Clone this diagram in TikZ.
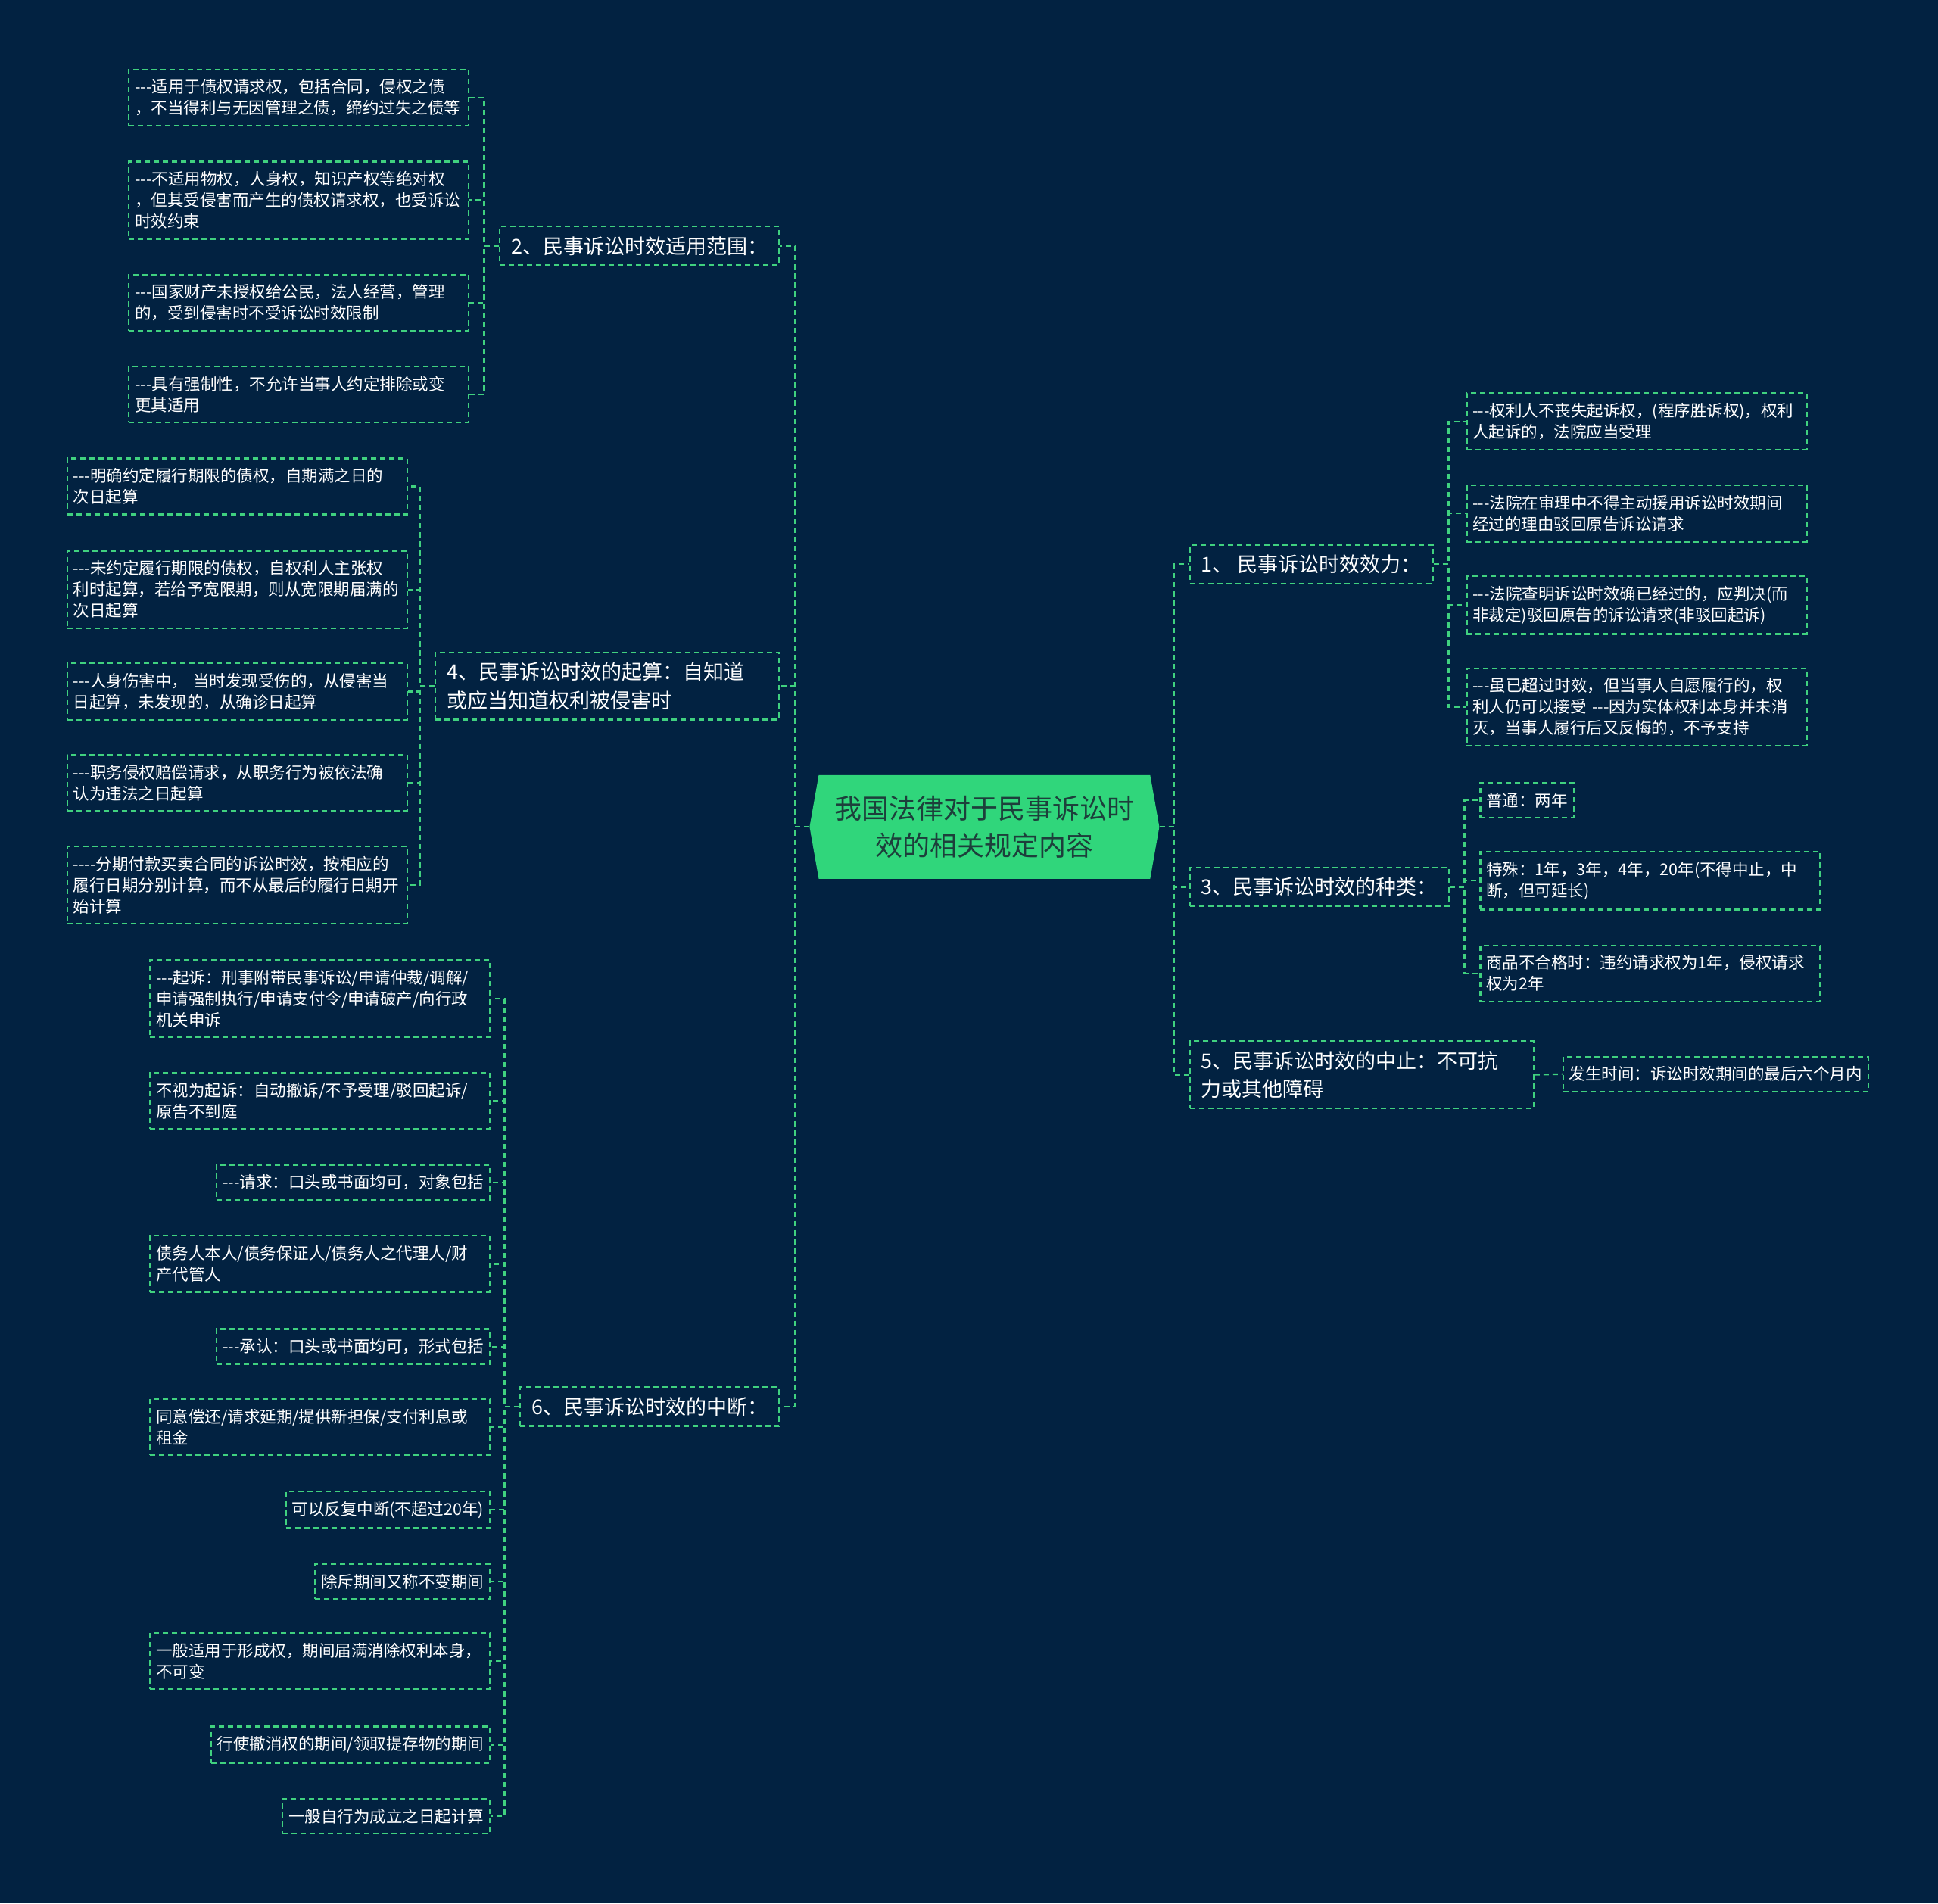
\documentclass[tikz,border=0pt]{standalone}
\usepackage{fontspec}
\newfontfamily\cjk{Noto Sans CJK SC}
\usetikzlibrary{shapes.symbols}
\definecolor{bgnavy}{HTML}{022241}
\definecolor{mapgreen}{HTML}{40D17F}
\definecolor{rootgreen}{HTML}{30D67B}
\definecolor{roottext}{HTML}{1D3F3B}
\newcommand{\hyps}{-{}-{}-}

\begin{document}
\begin{tikzpicture}[x=1.6327pt, y=-1.6327pt, every node/.style={text=white},
  link/.style={draw=mapgreen, line width=2.2pt, dash pattern=on 7pt off 5pt},
  leaf/.style={draw=mapgreen, line width=2.2pt, dash pattern=on 7pt off 5pt, align=left,
    inner xsep=8pt, inner ysep=13pt, font=\cjk\fontsize{21.5}{28}\selectfont},
  wideleaf/.style={leaf, text width=433pt},
  branch/.style={draw=mapgreen, line width=2.2pt, dash pattern=on 7pt off 5pt, align=left,
    inner xsep=15pt, inner ysep=13pt, font=\cjk\fontsize{27}{37.5}\selectfont},
  widebranch/.style={branch, text width=424pt}]
  \useasboundingbox (0,0) rectangle (1568,1540);
  \fill[bgnavy] (0,0) rectangle (1568,1540);

  % central topic
  \node[signal, signal to=west and east, signal pointer angle=160, fill=rootgreen,
    minimum width=462pt, minimum height=137pt, align=center, text=roottext,
    font=\cjk\fontsize{36}{49}\selectfont] (root) at (796.5,669)
    {我国法律对于民事诉讼时\\效的相关规定内容};

  % right branches
  \node[branch, anchor=west] (b1) at (962,456.5) {1、 民事诉讼时效效力：};
  \node[branch, anchor=west] (b3) at (962,717.5) {3、民事诉讼时效的种类：};
  \node[widebranch, anchor=west] (b5) at (962,869.5) {5、民事诉讼时效的中止：不可抗\\力或其他障碍};

  % left branches
  \node[branch, anchor=east] (b2) at (631,199) {2、民事诉讼时效适用范围：};
  \node[widebranch, anchor=east] (b4) at (631,555) {4、民事诉讼时效的起算：自知道\\或应当知道权利被侵害时};
  \node[branch, anchor=east] (b6) at (631,1138) {6、民事诉讼时效的中断：};

  % leaves of 1
  \node[wideleaf, anchor=west] (b1a) at (1186,341) {\hyps 权利人不丧失起诉权，(程序胜诉权)，权利\\人起诉的，法院应当受理};
  \node[wideleaf, anchor=west] (b1b) at (1186,415.5) {\hyps 法院在审理中不得主动援用诉讼时效期间\\经过的理由驳回原告诉讼请求};
  \node[wideleaf, anchor=west] (b1c) at (1186,489.5) {\hyps 法院查明诉讼时效确已经过的，应判决(而\\非裁定)驳回原告的诉讼请求(非驳回起诉)};
  \node[wideleaf, anchor=west] (b1d) at (1186,572) {\hyps 虽已超过时效，但当事人自愿履行的，权\\利人仍可以接受 \hyps 因为实体权利本身并未消\\灭，当事人履行后又反悔的，不予支持};

  % leaves of 3
  \node[leaf, anchor=west] (b3a) at (1197,647.5) {普通：两年};
  \node[wideleaf, anchor=west] (b3b) at (1197,712.5) {特殊：1年，3年，4年，20年(不得中止，中\\断，但可延长)};
  \node[wideleaf, anchor=west] (b3c) at (1197,787.5) {商品不合格时：违约请求权为1年，侵权请求\\权为2年};

  % leaf of 5
  \node[leaf, anchor=west] (b5a) at (1264,869) {发生时间：诉讼时效期间的最后六个月内};

  % leaves of 2
  \node[wideleaf, anchor=east] (b2a) at (380,79) {\hyps 适用于债权请求权，包括合同，侵权之债\\，不当得利与无因管理之债，缔约过失之债等};
  \node[wideleaf, anchor=east] (b2b) at (380,162) {\hyps 不适用物权，人身权，知识产权等绝对权\\，但其受侵害而产生的债权请求权，也受诉讼\\时效约束};
  \node[wideleaf, anchor=east] (b2c) at (380,245) {\hyps 国家财产未授权给公民，法人经营，管理\\的，受到侵害时不受诉讼时效限制};
  \node[wideleaf, anchor=east] (b2d) at (380,319) {\hyps 具有强制性，不允许当事人约定排除或变\\更其适用};

  % leaves of 4
  \node[wideleaf, anchor=east] (b4a) at (330,393.5) {\hyps 明确约定履行期限的债权，自期满之日的\\次日起算};
  \node[wideleaf, anchor=east] (b4b) at (330,477) {\hyps 未约定履行期限的债权，自权利人主张权\\利时起算，若给予宽限期，则从宽限期届满的\\次日起算};
  \node[wideleaf, anchor=east] (b4c) at (330,559.5) {\hyps 人身伤害中， 当时发现受伤的，从侵害当\\日起算，未发现的，从确诊日起算};
  \node[wideleaf, anchor=east] (b4d) at (330,633.5) {\hyps 职务侵权赔偿请求，从职务行为被依法确\\认为违法之日起算};
  \node[wideleaf, anchor=east] (b4e) at (330,716) {\hyps -分期付款买卖合同的诉讼时效，按相应的\\履行日期分别计算，而不从最后的履行日期开\\始计算};

  % leaves of 6
  \node[wideleaf, anchor=east] (b6a) at (397,808) {\hyps 起诉：刑事附带民事诉讼/申请仲裁/调解/\\申请强制执行/申请支付令/申请破产/向行政\\机关申诉};
  \node[wideleaf, anchor=east] (b6b) at (397,890.5) {不视为起诉：自动撤诉/不予受理/驳回起诉/\\原告不到庭};
  \node[leaf, anchor=east] (b6c) at (397,956.5) {\hyps 请求：口头或书面均可，对象包括};
  \node[wideleaf, anchor=east] (b6d) at (397,1022.5) {债务人本人/债务保证人/债务人之代理人/财\\产代管人};
  \node[leaf, anchor=east] (b6e) at (397,1089.5) {\hyps 承认：口头或书面均可，形式包括};
  \node[wideleaf, anchor=east] (b6f) at (397,1154.5) {同意偿还/请求延期/提供新担保/支付利息或\\租金};
  \node[leaf, anchor=east] (b6g) at (397,1221.5) {可以反复中断(不超过20年)};
  \node[leaf, anchor=east] (b6h) at (397,1279.5) {除斥期间又称不变期间};
  \node[wideleaf, anchor=east] (b6i) at (397,1344) {一般适用于形成权，期间届满消除权利本身，\\不可变};
  \node[leaf, anchor=east] (b6j) at (397,1411.5) {行使撤消权的期间/领取提存物的期间};
  \node[leaf, anchor=east] (b6k) at (397,1469.5) {一般自行为成立之日起计算};

  % root links
  \draw[link] (root.east) -- ++(12,0) |- (b1.west);
  \draw[link] (root.east) -- ++(12,0) |- (b3.west);
  \draw[link] (root.east) -- ++(12,0) |- (b5.west);
  \draw[link] (root.west) -- ++(-12,0) |- (b2.east);
  \draw[link] (root.west) -- ++(-12,0) |- (b4.east);
  \draw[link] (root.west) -- ++(-12,0) |- (b6.east);

  % branch links
  \draw[link] (b1.east) -- ++(12,0) |- (b1a.west);
  \draw[link] (b1.east) -- ++(12,0) |- (b1b.west);
  \draw[link] (b1.east) -- ++(12,0) |- (b1c.west);
  \draw[link] (b1.east) -- ++(12,0) |- (b1d.west);
  \draw[link] (b3.east) -- ++(12,0) |- (b3a.west);
  \draw[link] (b3.east) -- ++(12,0) |- (b3b.west);
  \draw[link] (b3.east) -- ++(12,0) |- (b3c.west);
  \draw[link] (b5.east) -- (b5a.west);
  \draw[link] (b2.west) -- ++(-12,0) |- (b2a.east);
  \draw[link] (b2.west) -- ++(-12,0) |- (b2b.east);
  \draw[link] (b2.west) -- ++(-12,0) |- (b2c.east);
  \draw[link] (b2.west) -- ++(-12,0) |- (b2d.east);
  \draw[link] (b4.west) -- ++(-12,0) |- (b4a.east);
  \draw[link] (b4.west) -- ++(-12,0) |- (b4b.east);
  \draw[link] (b4.west) -- ++(-12,0) |- (b4c.east);
  \draw[link] (b4.west) -- ++(-12,0) |- (b4d.east);
  \draw[link] (b4.west) -- ++(-12,0) |- (b4e.east);
  \draw[link] (b6.west) -- ++(-12,0) |- (b6a.east);
  \draw[link] (b6.west) -- ++(-12,0) |- (b6b.east);
  \draw[link] (b6.west) -- ++(-12,0) |- (b6c.east);
  \draw[link] (b6.west) -- ++(-12,0) |- (b6d.east);
  \draw[link] (b6.west) -- ++(-12,0) |- (b6e.east);
  \draw[link] (b6.west) -- ++(-12,0) |- (b6f.east);
  \draw[link] (b6.west) -- ++(-12,0) |- (b6g.east);
  \draw[link] (b6.west) -- ++(-12,0) |- (b6h.east);
  \draw[link] (b6.west) -- ++(-12,0) |- (b6i.east);
  \draw[link] (b6.west) -- ++(-12,0) |- (b6j.east);
  \draw[link] (b6.west) -- ++(-12,0) |- (b6k.east);
\end{tikzpicture}
\end{document}
